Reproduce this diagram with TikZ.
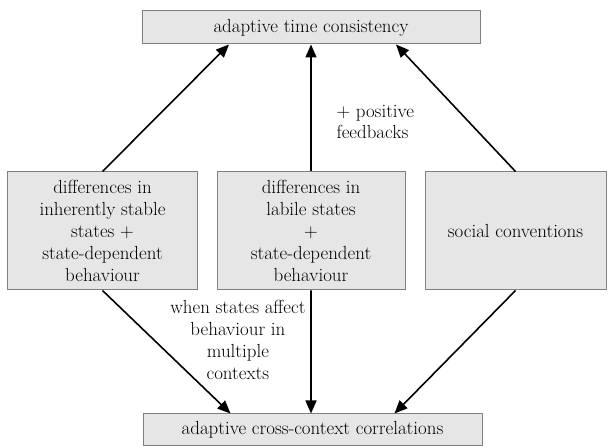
\documentclass[tikz,border=0pt]{standalone}
\usepackage{fontspec}
\usetikzlibrary{arrows.meta}
\definecolor{boxfill}{HTML}{E6E6E6}
\definecolor{boxline}{HTML}{808080}
\begin{document}
\begin{tikzpicture}[x=1bp,y=1bp,
    font=\fontsize{19}{22}\selectfont,
    box/.style={draw=boxline,line width=1bp,fill=boxfill,align=center,inner sep=0pt},
    arr/.style={line width=1.6bp,-{Triangle[length=13bp,width=11bp]}}]
  \useasboundingbox (0,0) rectangle (608,448);
  \node[box,minimum width=338bp,minimum height=33bp] (top) at (311,420.5) {adaptive time consistency};
  \node[box,minimum width=339bp,minimum height=32bp] (bottom) at (312.5,18) {adaptive cross-context correlations};
  \node[box,minimum width=189bp,minimum height=118bp] (stable) at (102.5,217)
    {differences in\\inherently stable\\states +\\state-dependent\\behaviour};
  \node[box,minimum width=188bp,minimum height=118bp] (labile) at (311,217)
    {differences in\\labile states\\+\\state-dependent\\behaviour};
  \node[box,minimum width=181bp,minimum height=118bp] (social) at (515.5,217) {social conventions};
  \node[anchor=west,align=left] (feedback) at (333,326) {+ positive\\feedbacks};
  \node[anchor=east,align=center] (contexts) at (309,108) {when states affect\\behaviour in\\multiple\\contexts};
  % upward arrows
  \draw[arr] (stable.north) -- ([xshift=-82bp]top.south);
  \draw[arr] (labile.north) -- (top.south);
  \draw[arr] (social.north) -- ([xshift=85bp]top.south);
  % downward arrows
  \draw[arr] (stable.south) -- ([xshift=-82bp]bottom.north);
  \draw[arr] (labile.south) -- ([xshift=-1.5bp]bottom.north);
  \draw[arr] (social.south) -- ([xshift=82bp]bottom.north);
\end{tikzpicture}
\end{document}
